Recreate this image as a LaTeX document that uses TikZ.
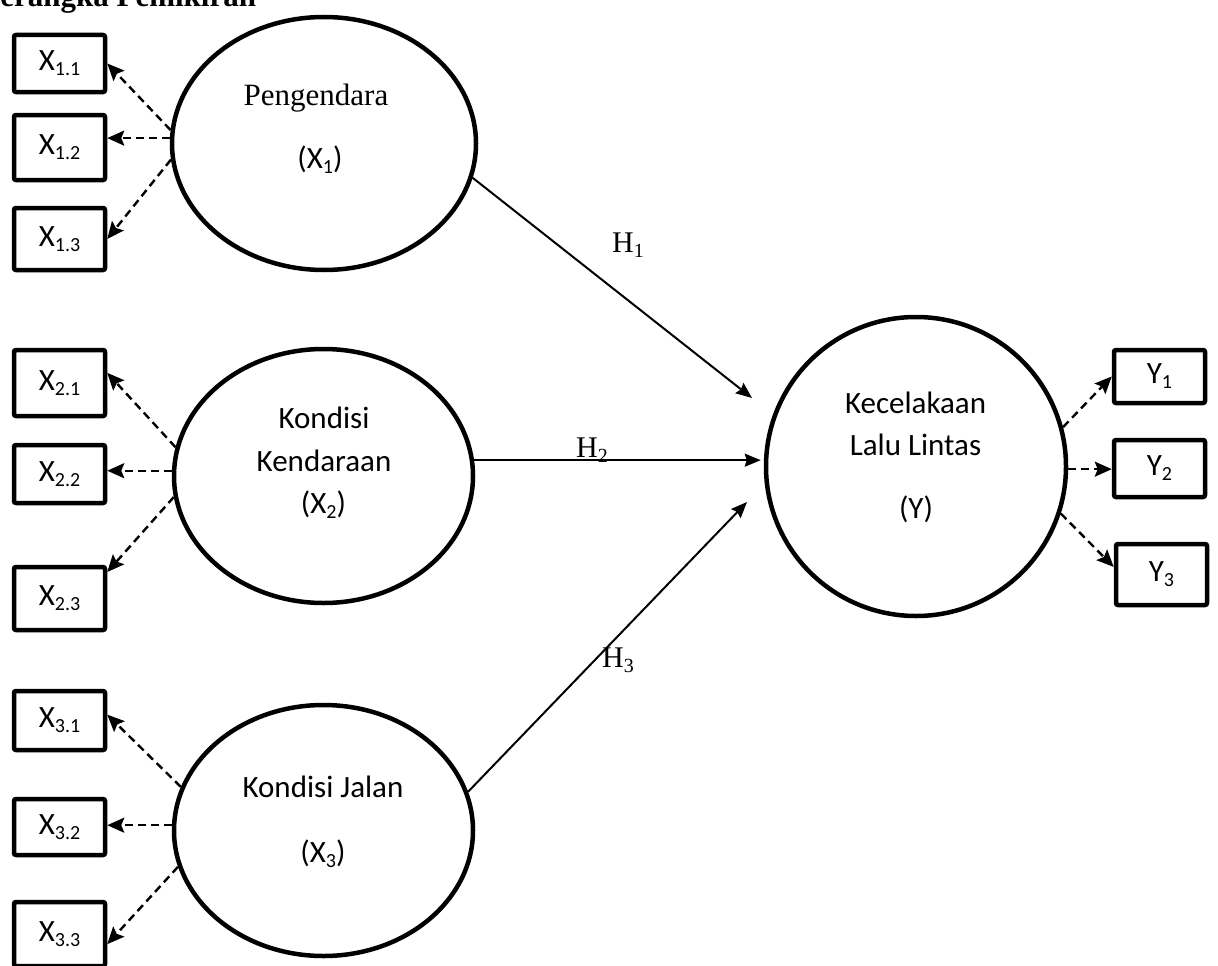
\documentclass[tikz,border=0pt]{standalone}
\usepackage{fontspec}
\setmainfont{Liberation Serif}
\newfontfamily\calibri{Carlito}
\usetikzlibrary{shapes.geometric,arrows.meta,calc}
\newcommand\lsub[1]{\raisebox{-5pt}{\fontsize{20}{20}\selectfont #1}}
\tikzset{
  ind/.style={draw, line width=4.5pt, rounded corners=2pt, minimum width=91pt, inner sep=0pt, font=\calibri\fontsize{31}{36}\selectfont},
  lat/.style={draw, ellipse, line width=4.5pt, inner sep=0pt},
  lbl/.style={anchor=base, inner sep=0pt, font=\calibri\fontsize{31}{36}\selectfont},
  serif/.style={anchor=base, inner sep=0pt, font=\fontsize{31}{36}\selectfont},
  hlab/.style={anchor=base west, inner sep=0pt, font=\fontsize{30}{36}\selectfont},
  load/.style={line width=2.4pt, dash pattern=on 8pt off 5pt, -{Stealth[length=17pt,width=15pt,inset=3pt]}},
  path/.style={line width=2pt, -{Stealth[length=16pt,width=13pt,inset=2pt]}}
}
\begin{document}
\begin{tikzpicture}[x=1pt,y=-1pt]
\useasboundingbox (0,0) rectangle (1218,966);
\clip (0,0) rectangle (1218,966);
% title
\node[anchor=base west, inner sep=0pt, font=\bfseries\fontsize{31}{36}\selectfont] (title) at (-24,7) {Kerangka Pemikiran};
% latent variables
\node[lat, minimum width=304pt, minimum height=253pt] (E1) at (324,143.5) {};
\node[lat, minimum width=299pt, minimum height=254pt] (E2) at (323.5,476) {};
\node[lat, minimum width=299pt, minimum height=251pt] (E3) at (323.5,830.5) {};
\node[lat, minimum width=300pt, minimum height=299pt] (Y) at (916,466.5) {};
% texts in latent variables
\node[serif] (t1a) at (316,105) {Pengendara};
\node[lbl] (t1b) at (320,168) {(X\lsub{1})};
\node[lbl] (t2a) at (324,428) {Kondisi};
\node[lbl] (t2b) at (324,471) {Kendaraan};
\node[lbl] (t2c) at (323.5,513) {(X\lsub{2})};
\node[lbl] (t3a) at (323,797) {Kondisi Jalan};
\node[lbl] (t3b) at (323,862) {(X\lsub{3})};
\node[lbl] (tya) at (915.5,413) {Kecelakaan};
\node[lbl] (tyb) at (915.5,455) {Lalu Lintas};
\node[lbl] (tyc) at (916,518) {(Y)};
% indicator boxes
\node[ind, minimum height=57pt] (X11) at (59.5,63.5) {X\lsub{1.1}};
\node[ind, minimum height=65pt] (X12) at (59.5,147.5) {X\lsub{1.2}};
\node[ind, minimum height=62pt] (X13) at (59.5,239) {X\lsub{1.3}};
\node[ind, minimum height=66pt] (X21) at (59.5,383) {X\lsub{2.1}};
\node[ind, minimum height=58pt] (X22) at (59.5,474) {X\lsub{2.2}};
\node[ind, minimum height=63pt] (X23) at (59.5,598.5) {X\lsub{2.3}};
\node[ind, minimum height=59pt] (X31) at (59.5,720.5) {X\lsub{3.1}};
\node[ind, minimum height=56pt] (X32) at (59.5,827) {X\lsub{3.2}};
\node[ind, minimum height=64pt] (X33) at (59.5,934) {X\lsub{3.3}};
\node[ind, minimum height=53pt] (Y1) at (1159.5,376.5) {Y\lsub{1}};
\node[ind, minimum height=57pt] (Y2) at (1159.5,468.5) {Y\lsub{2}};
\node[ind, minimum height=61pt] (Y3) at (1161.5,574.5) {Y\lsub{3}};
% loadings
\draw[load] (E1.175) -- (X11.east);
\draw[load] (E1.178) -- (E1.178 -| X12.east);
\draw[load] (E1.186) -- (X13.east);
\draw[load] (E2.169) -- (X21.12);
\draw[load] (E2.178) -- (E2.178 -| X22.east);
\draw[load] (E2.188) -- (X23.29);
\draw[load] (E3.163) -- (X31.7);
\draw[load] (E3.178) -- (E3.178 -| X32.east);
\draw[load] (E3.194) -- (X33.-12);
\draw[load] (Y.15) -- (Y1.west);
\draw[load] (Y.-1) -- (Y.-1 -| Y2.west);
\draw[load] (Y.-18) -- (Y3.171);
% structural paths
\coordinate (h1tip) at (752,398);
\coordinate (h3tip) at (747,502);
\draw[path] (E1.-13) -- (h1tip);
\draw[path, shorten >=3pt] (E2.6) -- (E2.6 -| Y.west);
\draw[path] (E3.15) -- (h3tip);
% hypothesis labels
\node[hlab] (H1) at (612,252) {H\lsub{1}};
\node[hlab] (H2) at (576,457) {H\lsub{2}};
\node[hlab] (H3) at (602,667) {H\lsub{3}};
\end{tikzpicture}
\end{document}
